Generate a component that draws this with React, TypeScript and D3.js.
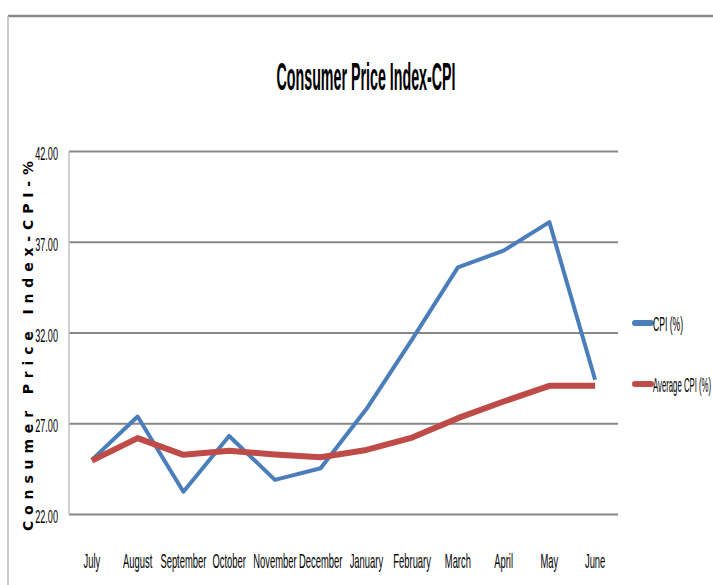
import { useEffect, useRef } from "react";
import * as d3 from "d3";

const months = [
  "July",
  "August",
  "September",
  "October",
  "November",
  "December",
  "January",
  "February",
  "March",
  "April",
  "May",
  "June",
];
const cpi = [24.98, 27.37, 23.23, 26.3, 23.88, 24.52, 27.78, 31.62, 35.59, 36.51, 38.08, 29.4];
const avgCpi = [24.94, 26.18, 25.26, 25.48, 25.28, 25.13, 25.53, 26.21, 27.28, 28.2, 29.06, 29.06];
const yTicks = [22, 27, 32, 37, 42];

const series = [
  { name: "CPI (%)", values: cpi, color: "#4a7ebb", width: 4 },
  { name: "Average CPI (%)", values: avgCpi, color: "#be4b48", width: 6 },
];

const W = 713;
const H = 585;
const plot = { left: 69, right: 618, top: 151, bottom: 514 };
const FONT = "'Liberation Sans', Arial, sans-serif";

const App = () => {
  const svgRef = useRef<SVGSVGElement | null>(null);

  useEffect(() => {
    if (!svgRef.current) return;
    const svg = d3.select(svgRef.current);
    svg.selectAll("*").remove();

    // chart frame
    svg
      .append("line")
      .attr("x1", 8)
      .attr("x2", W)
      .attr("y1", 16)
      .attr("y2", 16)
      .attr("stroke", "#8a8a8a")
      .attr("stroke-width", 2.5);
    svg
      .append("line")
      .attr("x1", 8)
      .attr("x2", 8)
      .attr("y1", 16)
      .attr("y2", H)
      .attr("stroke", "#bdbdbd")
      .attr("stroke-width", 1.5);

    const x = d3
      .scalePoint<string>()
      .domain(months)
      .range([plot.left, plot.right])
      .padding(0.5);
    const y = d3.scaleLinear().domain([22, 42]).range([plot.bottom, plot.top]);

    // condensed text helper
    const squish = (
      g: d3.Selection<any, any, any, any>,
      tx: number,
      ty: number,
      sx: number,
      txt: string,
      size: number,
      anchor: string,
      weight = "normal",
    ) =>
      g
        .append("text")
        .attr("transform", `translate(${tx},${ty}) scale(${sx},1)`)
        .attr("text-anchor", anchor)
        .attr("font-family", FONT)
        .attr("font-size", size)
        .attr("font-weight", weight)
        .attr("fill", "#000")
        .text(txt);

    // grid
    const yGrid = d3
      .axisLeft(y)
      .tickValues(yTicks)
      .tickSize(-(plot.right - plot.left))
      .tickFormat(() => "");
    svg
      .append("g")
      .attr("transform", `translate(${plot.left},0)`)
      .call(yGrid)
      .call((g) => g.select(".domain").remove())
      .call((g) =>
        g.selectAll(".tick line").attr("stroke", "#878787").attr("stroke-width", 2),
      );
    svg
      .append("line")
      .attr("x1", plot.left)
      .attr("x2", plot.left)
      .attr("y1", plot.top)
      .attr("y2", plot.bottom)
      .attr("stroke", "#c0c0c0")
      .attr("stroke-width", 1.5);

    // y tick labels
    const yl = svg.append("g");
    yTicks.forEach((t) => {
      squish(yl, 58, y(t) + 9, 0.48, d3.format(".2f")(t), 19, "end");
    });

    // x labels
    const xl = svg.append("g");
    months.forEach((m) => {
      squish(xl, x(m) as number, 568, 0.47, m, 20, "middle");
    });

    // title, squeezed to the reference width
    const title = squish(svg, 366, 90, 1, "Consumer Price Index-CPI", 38, "middle", "bold");
    const tw = (title.node() as SVGTextElement).getComputedTextLength() || 700;
    title.attr("transform", `translate(366,90) scale(${179 / tw},1)`);

    // y axis title
    svg
      .append("text")
      .attr("transform", `translate(33,346) rotate(-90)`)
      .attr("text-anchor", "middle")
      .attr("font-family", "'DejaVu Sans', sans-serif")
      .attr("font-size", 14)
      .attr("font-weight", "bold")
      .attr("textLength", 370)
      .attr("lengthAdjust", "spacing")
      .text("Consumer Price Index-CPI-%");

    // lines
    const line = d3
      .line<number>()
      .x((_d, i) => x(months[i]) as number)
      .y((d) => y(d));
    series.forEach((s) => {
      svg
        .append("path")
        .datum(s.values)
        .attr("fill", "none")
        .attr("stroke", s.color)
        .attr("stroke-width", s.width)
        .attr("stroke-linejoin", "round")
        .attr("d", line);
    });

    // legend (kept inside the right edge)
    const legendY = [323, 384];
    series.forEach((s, i) => {
      svg
        .append("line")
        .attr("x1", 635)
        .attr("x2", 651)
        .attr("y1", legendY[i])
        .attr("y2", legendY[i])
        .attr("stroke", s.color)
        .attr("stroke-width", 6)
        .attr("stroke-linecap", "round");
      const t = squish(svg, 653, legendY[i] + 8, 0.43, s.name, 20, "start");
      const len = (t.node() as SVGTextElement).getComputedTextLength() || 0;
      const sx = len * 0.43 > W - 655 ? (W - 655) / len : 0.43;
      t.attr("transform", `translate(653,${legendY[i] + 8}) scale(${sx},1)`);
    });
  }, []);

  return (
    <svg
      ref={svgRef}
      width={W}
      height={H}
      style={{ position: "absolute", left: 0, top: 0, background: "#fff" }}
    />
  );
};

export default App;
